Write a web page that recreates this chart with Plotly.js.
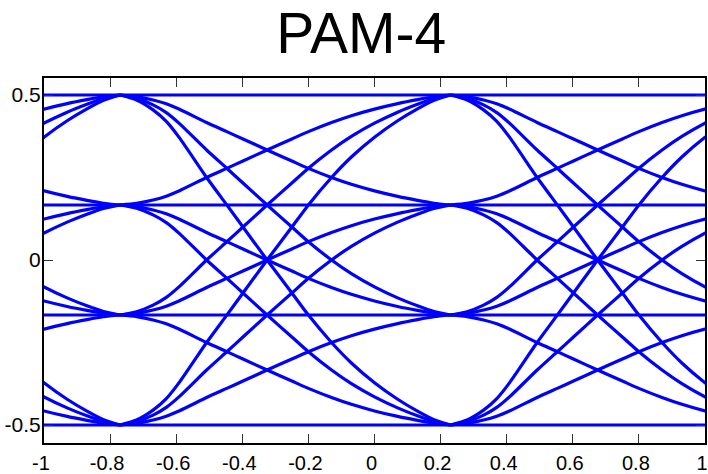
<!DOCTYPE html>
<html>
<head>
<meta charset="utf-8">
<script src="https://cdn.plot.ly/plotly-3.0.1.min.js"></script>
<style>
  html, body { margin: 0; padding: 0; background: #ffffff; }
  #chart { width: 708px; height: 474px; }
</style>
</head>
<body>
<div id="chart"></div>
<script>
// PAM-4 signal levels
var levels = [0.5, 0.1667, -0.1667, -0.5];
// Symbol sampling instants (peaks of the eye) whose transitions are visible
var symbolStarts = [-1.77, -0.77, 0.23];
// Transition profile: time after a symbol instant (symbol periods)
var profileTime = [0, 0.05, 0.1, 0.14, 0.18, 0.262, 0.323, 0.372, 0.445, 0.52, 0.57, 0.64, 0.7, 0.77, 0.84, 0.9, 0.95, 1.0];
// ...and the fraction of the level change completed at that time
var profileFrac = [0, 0.015, 0.045, 0.08, 0.13, 0.25, 0.333, 0.4, 0.5, 0.6, 0.667, 0.75, 0.812, 0.872, 0.922, 0.958, 0.984, 1.0];

var xTickVals = [-1, -0.8, -0.6, -0.4, -0.2, 0, 0.2, 0.4, 0.6, 0.8, 1];
var xTickText = ['-1', '-0.8', '-0.6', '-0.4', '-0.2', '0', '0.2', '0.4', '0.6', '0.8', '1'];
var yTickVals = [-0.5, 0, 0.5];
var yTickText = ['-0.5', '0', '0.5'];

var traces = [];
symbolStarts.forEach(function (t0) {
  levels.forEach(function (a) {
    levels.forEach(function (b) {
      var xs = profileTime.map(function (s) { return t0 + s; });
      var ys = profileFrac.map(function (p) { return a + (b - a) * p; });
      traces.push({
        type: 'scatter', mode: 'lines', x: xs, y: ys,
        line: { color: '#0000ff', width: 3.2, shape: 'spline', smoothing: 0.6 },
        hoverinfo: 'skip', showlegend: false, cliponaxis: true
      });
    });
  });
});

var fontFam = '"Liberation Sans", Arial, Helvetica, sans-serif';
var layout = {
  width: 708, height: 474,
  margin: { l: 44, r: 3, t: 78, b: 31, pad: 0 },
  paper_bgcolor: '#ffffff', plot_bgcolor: '#ffffff',
  font: { family: fontFam, color: '#000000', size: 20 },
  title: {
    text: 'PAM-4',
    font: { family: fontFam, size: 57, color: '#000000' },
    x: 0.48, xref: 'paper', xanchor: 'center',
    y: 0.93, yref: 'container', yanchor: 'middle'
  },
  showlegend: false,
  xaxis: {
    range: [-1, 1], showgrid: false, zeroline: false,
    showline: true, linecolor: '#000000', linewidth: 2, mirror: 'ticks',
    ticks: 'inside', ticklen: 9, tickwidth: 1, tickcolor: '#333333',
    tickvals: xTickVals, ticktext: xTickText, ticklabelstandoff: 1,
    ticklabelshift: -3, ticklabeloverflow: 'allow',
    tickfont: { family: fontFam, size: 20, color: '#000000' }
  },
  yaxis: {
    range: [-0.5545, 0.5515], showgrid: false, zeroline: false,
    showline: true, linecolor: '#000000', linewidth: 2, mirror: 'ticks',
    ticks: 'inside', ticklen: 9, tickwidth: 1, tickcolor: '#333333',
    tickvals: yTickVals, ticktext: yTickText, ticklabelstandoff: -3,
    ticklabeloverflow: 'allow',
    tickfont: { family: fontFam, size: 21, color: '#000000' }
  }
};

Plotly.newPlot('chart', traces, layout, { displayModeBar: false, staticPlot: true });
</script>
</body>
</html>
